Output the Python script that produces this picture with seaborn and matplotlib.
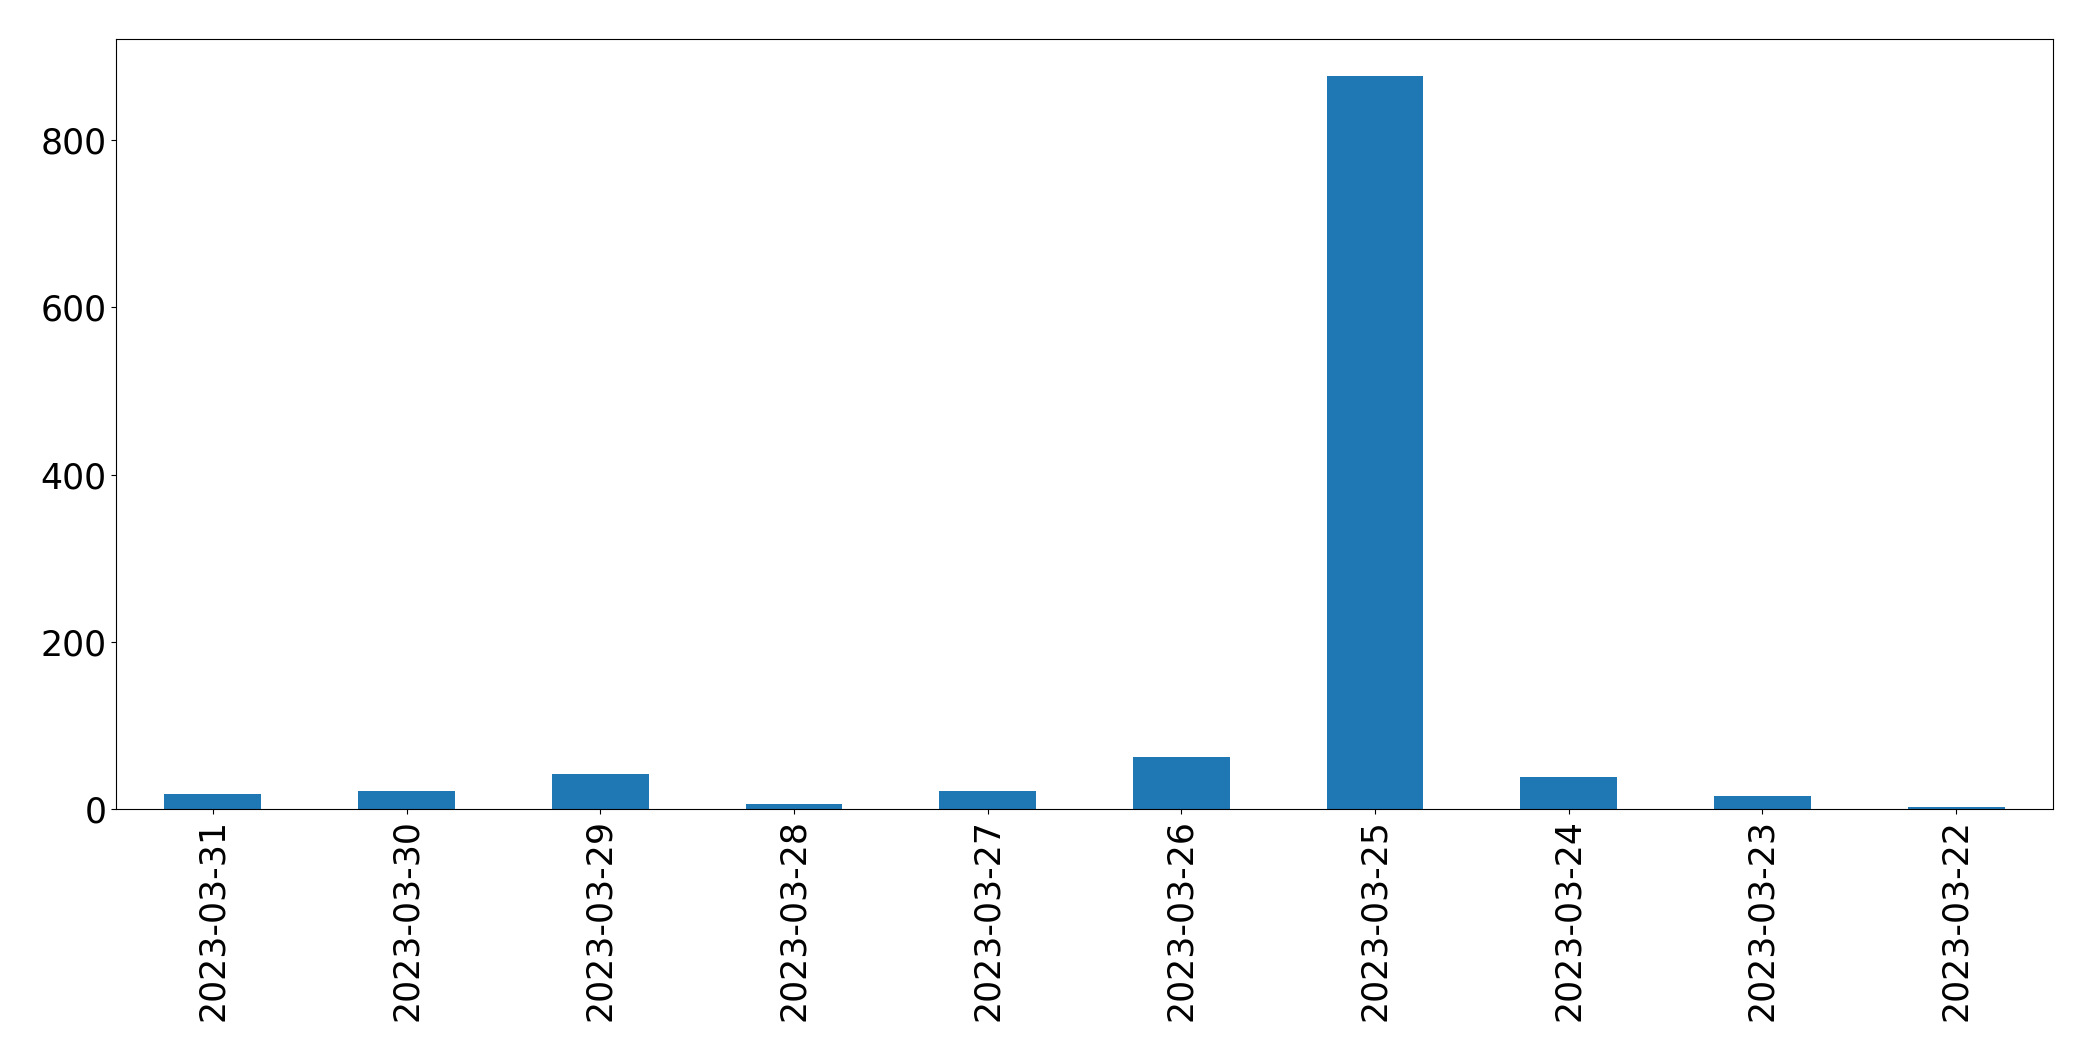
import matplotlib
matplotlib.use('Agg')
import matplotlib.pyplot as plt
import seaborn as sns
import pandas as pd

dates = ['2023-03-31', '2023-03-30', '2023-03-29', '2023-03-28', '2023-03-27',
         '2023-03-26', '2023-03-25', '2023-03-24', '2023-03-23', '2023-03-22']
counts = [18, 22, 42, 6, 22, 62, 877, 38, 15, 2]

df = pd.DataFrame({'date': dates, 'count': counts})

fig, ax = plt.subplots(figsize=(20.93, 10.61), dpi=100)
sns.barplot(data=df, x='date', y='count', ax=ax, color='#1f77b4',
            saturation=1, width=0.5, order=dates)
ax.set_xlim(-0.5, len(dates) - 0.5)
ax.set_ylim(0, max(counts) * 1.05)
ax.set_xlabel('')
ax.set_ylabel('')
ax.tick_params(axis='both', labelsize=25)
ax.tick_params(axis='x', labelrotation=90)
for s in ax.spines.values():
    s.set_color('black')

fig.subplots_adjust(left=116 / 2093, right=2053 / 2093,
                    top=1 - 39 / 1061, bottom=1 - 809 / 1061)
fig.savefig('out.png', dpi=100)
